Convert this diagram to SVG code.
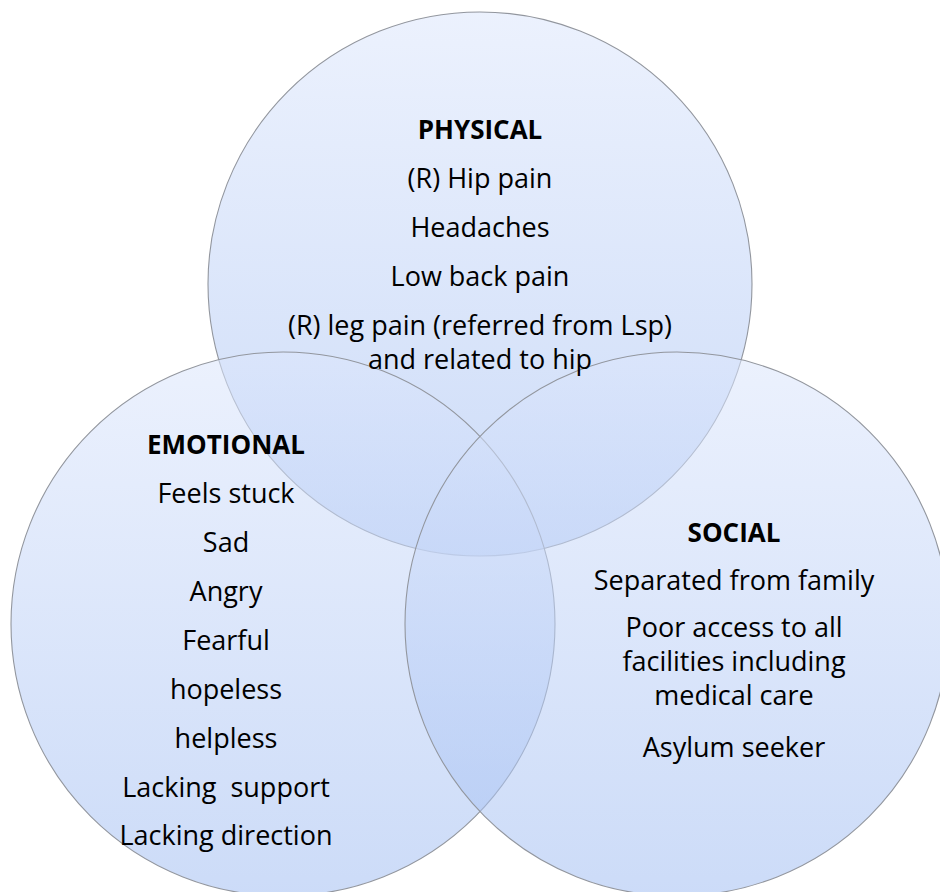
<svg xmlns="http://www.w3.org/2000/svg" width="940" height="892" viewBox="0 0 940 892">
<defs>
<linearGradient id="g" x1="0" y1="0" x2="0" y2="1">
<stop offset="0" stop-color="#dce6fc"/>
<stop offset="1" stop-color="#a2bef2"/>
</linearGradient>
<style>
.c{fill:url(#g);fill-opacity:0.55;stroke:#92969e;stroke-width:1.1}
text{font-family:"Open Sans","Liberation Sans",sans-serif;font-size:27px;fill:#000;text-anchor:middle}
.h{font-weight:bold;font-size:26px}
</style>
</defs>
<rect width="940" height="892" fill="#fff"/>
<g id="physical">
<circle class="c" cx="480" cy="284" r="272"/>
</g>
<g id="emotional">
<circle class="c" cx="283" cy="624" r="272"/>
</g>
<g id="social">
<circle class="c" cx="677" cy="624" r="272"/>
</g>
<g id="connectors"/>
<g id="physical-text">
<text class="h" x="480" y="139">PHYSICAL</text>
<text x="480" y="188">(R) Hip pain</text>
<text x="480" y="237">Headaches</text>
<text x="480" y="286">Low back pain</text>
<text x="480" y="335">(R) leg pain (referred from Lsp)</text>
<text x="480" y="369">and related to hip</text>
</g>
<g id="emotional-text">
<text class="h" x="226" y="454">EMOTIONAL</text>
<text x="226" y="503">Feels stuck</text>
<text x="226" y="552">Sad</text>
<text x="226" y="601">Angry</text>
<text x="226" y="650">Fearful</text>
<text x="226" y="699">hopeless</text>
<text x="226" y="748">helpless</text>
<text x="226" y="797" xml:space="preserve">Lacking  support</text>
<text x="226" y="845">Lacking direction</text>
</g>
<g id="social-text">
<text class="h" x="734" y="542">SOCIAL</text>
<text x="734" y="590">Separated from family</text>
<text x="734" y="637">Poor access to all</text>
<text x="734" y="671">facilities including</text>
<text x="734" y="705">medical care</text>
<text x="734" y="757">Asylum seeker</text>
</g>
</svg>
